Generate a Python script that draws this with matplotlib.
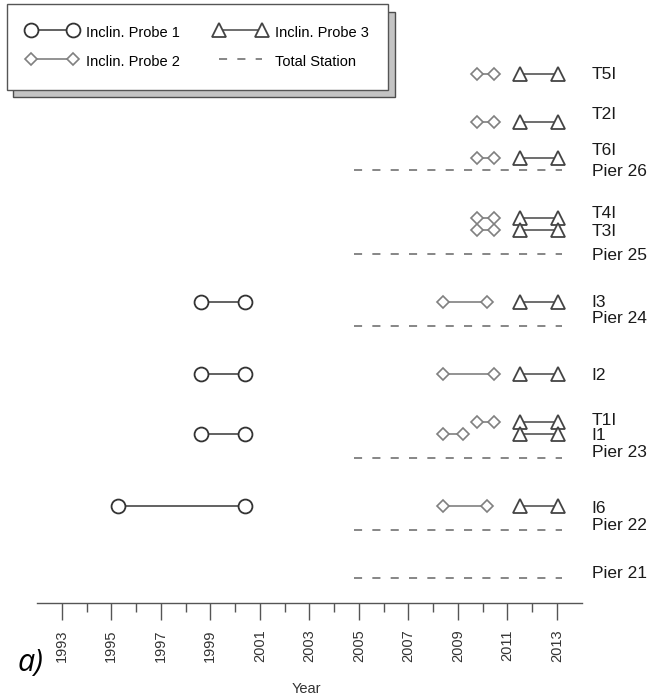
import matplotlib
matplotlib.use('Agg')
import matplotlib.pyplot as plt
from matplotlib.lines import Line2D

plt.rcParams['font.family'] = ['Liberation Sans', 'DejaVu Sans']

# vertical level of each measurement row
row_level = {'T5I': 42, 'T2I': 38, 'T6I': 35, 'T4I': 30, 'T3I': 29,
             'I3': 23, 'I2': 17, 'T1I': 13, 'I1': 12, 'I6': 6,
             'Pier 26': 34, 'Pier 25': 27, 'Pier 24': 21, 'Pier 23': 10,
             'Pier 22': 4, 'Pier 21': 0}

# right hand labels and where they sit
label_names = ['T5I', 'T2I', 'T6I', 'Pier 26', 'T4I', 'T3I', 'Pier 25', 'I3',
               'Pier 24', 'I2', 'T1I', 'I1', 'Pier 23', 'I6', 'Pier 22', 'Pier 21']
label_levels = [42.15, 38.8, 35.75, 34.0, 30.55, 29.0, 27.0, 23.1,
                21.8, 17.05, 13.3, 12.0, 10.65, 5.95, 4.5, 0.5]

# Inclin. Probe 1
p1_rows = ['I3', 'I2', 'I1', 'I6']
p1_start = [1998.63, 1998.63, 1998.63, 1995.29]
p1_end = [2000.42, 2000.42, 2000.42, 2000.42]

# Inclin. Probe 2
p2_rows = ['T5I', 'T2I', 'T6I', 'T4I', 'T3I', 'I3', 'I2', 'T1I', 'I1', 'I6']
p2_start = [2009.77, 2009.77, 2009.77, 2009.77, 2009.77, 2008.39, 2008.39, 2009.77, 2008.39, 2008.39]
p2_end = [2010.47, 2010.47, 2010.47, 2010.47, 2010.47, 2010.17, 2010.47, 2010.47, 2009.2, 2010.17]

# Inclin. Probe 3
p3_rows = ['T5I', 'T2I', 'T6I', 'T4I', 'T3I', 'I3', 'I2', 'T1I', 'I1', 'I6']
p3_start = [2011.52] * 10
p3_end = [2013.05] * 10

# Total Station
ts_rows = ['Pier 26', 'Pier 25', 'Pier 24', 'Pier 23', 'Pier 22', 'Pier 21']
ts_start = [2004.8] * 6
ts_end = [2013.2] * 6

W, H = 653, 695
fig = plt.figure(figsize=(W / 100, H / 100), dpi=100)
ax = fig.add_axes([37 / W, 1 - 602.7 / H, 544.6 / W, 602.7 / H])

s1 = dict(color='#555555', lw=1.3, marker='o', ms=10, mfc='white', mec='#333333', mew=1.3)
s2 = dict(color='#808080', lw=1.2, marker='D', ms=6.4, mfc='white', mec='#808080', mew=1.2)
s3 = dict(color='#555555', lw=1.2, marker='^', ms=10.5, mfc='white', mec='#444444', mew=1.3)
s4 = dict(color='#666666', lw=1.1, linestyle=(0, (5.3, 6.7)))

for r, a, b in zip(ts_rows, ts_start, ts_end):
    y = row_level[r]
    ax.plot([a, b], [y, y], **s4)
for r, a, b in zip(p1_rows, p1_start, p1_end):
    y = row_level[r]
    ax.plot([a, b], [y, y], **s1)
for r, a, b in zip(p2_rows, p2_start, p2_end):
    y = row_level[r]
    ax.plot([a, b], [y, y], **s2)
for r, a, b in zip(p3_rows, p3_start, p3_end):
    y = row_level[r]
    ax.plot([a, b], [y, y], **s3)

for name, lv in zip(label_names, label_levels):
    ax.text(2014.4, lv, name, fontsize=12.5, va='center_baseline', ha='left', color='#1a1a1a', clip_on=False)

ax.set_xlim(1992, 2014)
ax.set_ylim(-2.03, 48.2)
ax.set_xticks(range(1993, 2014, 2))
ax.set_xticks(range(1994, 2013, 2), minor=True)
ax.set_xticklabels([str(y) for y in range(1993, 2014, 2)], rotation=90, fontsize=10.5, color='#333333')
ax.tick_params(axis='x', which='major', length=12, width=1, color='#555555', pad=7)
ax.tick_params(axis='x', which='minor', length=6.5, width=1, color='#555555')
ax.set_yticks([])
for sp in ['left', 'right', 'top']:
    ax.spines[sp].set_visible(False)
ax.spines['bottom'].set_color('#555555')
ax.spines['bottom'].set_linewidth(1.0)

fig.text(306.7 / W, 1 - 689 / H, 'Year', fontsize=10.5, ha='center', va='center', color='#333333')
fig.text(30 / W, 1 - 663 / H, 'a)', fontsize=22, style='italic', ha='center', va='center',
         family=['Open Sans', 'DejaVu Sans'])

handles = [Line2D([], [], **s1), Line2D([], [], **s2), Line2D([], [], **s3), Line2D([], [], **s4)]
names = ['Inclin. Probe 1', 'Inclin. Probe 2', 'Inclin. Probe 3', 'Total Station']
fig.legend(handles, names, loc='upper left', bbox_to_anchor=(6.7 / W, 1 - 4 / H), borderaxespad=0,
           ncol=2, numpoints=2, fontsize=10.5, handlelength=3.5, handletextpad=0.6, handleheight=1.45,
           columnspacing=2.4, borderpad=1.35, labelspacing=0.8, fancybox=False, framealpha=1,
           edgecolor='#555555', shadow={'ox': 4.5, 'oy': -5.5, 'facecolor': '#c4c4c4', 'alpha': 1})

fig.savefig('out.png', dpi=100)
